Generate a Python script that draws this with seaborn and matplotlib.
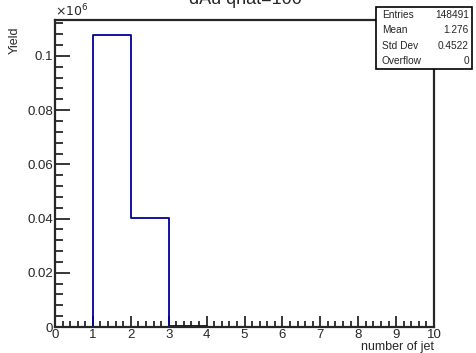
import numpy as np
import pandas as pd
import seaborn as sns
import matplotlib.pyplot as plt
from matplotlib.ticker import MultipleLocator

sns.set_style("ticks")
plt.rcParams['font.family'] = ['Liberation Sans', 'DejaVu Sans']

# jet multiplicity histogram, bins 0..10
bin_lo = [0, 1, 2, 3, 4, 5, 6, 7, 8, 9]
counts = [0, 107854, 40291, 346, 0, 0, 0, 0, 0, 0]
stat_names = ["Entries", "Mean", "Std Dev", "Overflow"]
stat_vals = ["148491", "1.276", "0.4522", "0"]

df = pd.DataFrame({"njet": np.array(bin_lo) + 0.5, "w": np.array(counts) / 1e6})

fig = plt.figure(figsize=(4.76, 3.53), dpi=100)
ax = fig.add_axes([55/476, 26/353, 379/476, 307/353])

sns.histplot(data=df, x="njet", weights="w", binwidth=1, binrange=(0, 10), element="step",
             fill=False, color="#000099", linewidth=1.3, ax=ax)

ax.set_xlim(0, 10)
ax.set_ylim(0, 0.11325)
ax.xaxis.set_major_locator(MultipleLocator(1))
ax.xaxis.set_minor_locator(MultipleLocator(0.2))
ax.yaxis.set_minor_locator(MultipleLocator(0.004))
ax.set_yticks([0, 0.02, 0.04, 0.06, 0.08, 0.1])
ax.set_yticklabels(["0", "0.02", "0.04", "0.06", "0.08", "0.1"])
ax.tick_params(which="both", direction="in", top=False, right=False, labelsize=9.5, pad=1.5, width=1.3)
ax.tick_params(axis="y", which="major", length=11)
ax.tick_params(axis="y", which="minor", length=5.5)
ax.tick_params(axis="x", which="major", length=8)
ax.tick_params(axis="x", which="minor", length=4)
for s in ax.spines.values():
    s.set_linewidth(1.6)
    s.set_visible(True)

ax.set_xlabel("number of jet", fontsize=9, loc="right", labelpad=0)
ax.set_ylabel("")
fig.text(15/476, 1 - 40/353, "Yield", fontsize=9, rotation=90, ha="center", va="center")
fig.text(55/476, 1 - 19/353, r"$\times10^{6}$", fontsize=9, ha="left", va="bottom")

fig.text(245/476, 1 + 1/353, "dAu qhat=100", fontsize=13, ha="center", va="center")

# stats box
bx0, by0, bw, bh = 376/476, 1 - 69/353, 96/476, 62/353
fig.patches.append(plt.Rectangle((bx0, by0), bw, bh, transform=fig.transFigure,
                                 facecolor="white", edgecolor="black", linewidth=1.2, zorder=5))
for i, (n, v) in enumerate(zip(stat_names, stat_vals)):
    yy = by0 + bh - (i + 0.5) * bh / 4
    fig.text(bx0 + 6/476, yy, n, fontsize=7.3, ha="left", va="center", zorder=6)
    fig.text(bx0 + bw - 3/476, yy, v, fontsize=7.3, ha="right", va="center", zorder=6)

fig.savefig("out.png", dpi=100)
